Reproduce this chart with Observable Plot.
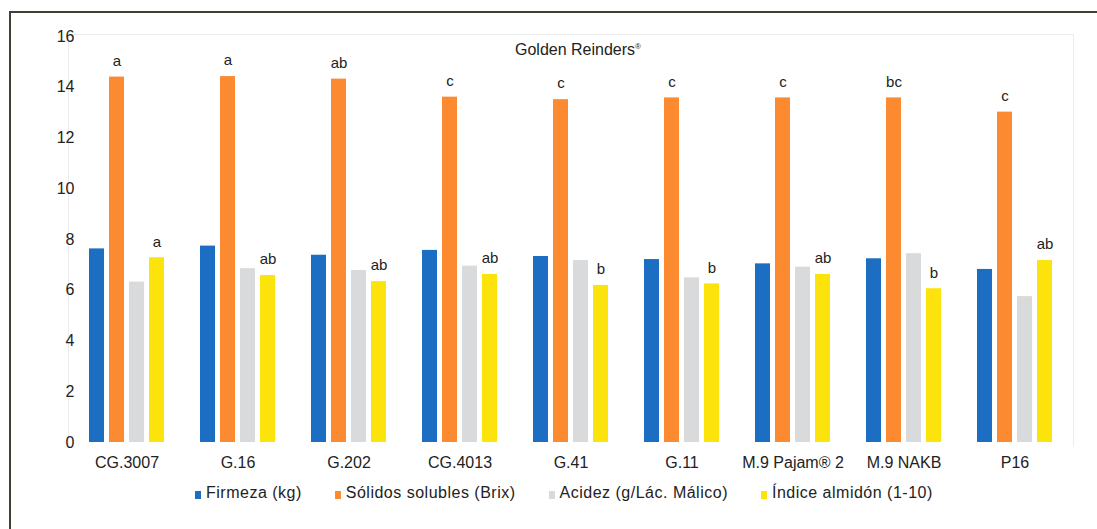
<!DOCTYPE html>
<html>
<head>
<meta charset="utf-8">
<script src="https://cdn.jsdelivr.net/npm/d3@7"></script>
<script src="https://cdn.jsdelivr.net/npm/@observablehq/plot@0.6"></script>
<style>
  html, body { margin: 0; padding: 0; background: #fff; }
  body { width: 1097px; height: 529px; position: relative; overflow: hidden; font-family: "Liberation Sans", Arial, sans-serif; }
  #frame { position: absolute; left: 9px; top: 11px; width: 1100px; height: 530px; border-left: 2px solid #3d4232; border-top: 2px solid #3d4232; }
  #plotarea { position: absolute; left: 68px; top: 34px; width: 1004px; height: 412px; border: 1px solid #ececec; border-bottom: none; }
  #chart { position: absolute; left: 0; top: 0; }
  #title { position: absolute; top: 41px; left: 578px; transform: translateX(-50%); font-size: 16px; color: #222; white-space: nowrap; }
  #title sup { font-size: 8px; }
  #legend { position: absolute; top: 484px; left: 195px; display: flex; gap: 33px; font-size: 16px; letter-spacing: 0.5px; color: #222; white-space: nowrap; }
  #legend span.item { display: inline-flex; align-items: center; }
  #legend i { display: inline-block; width: 6px; height: 8px; margin-right: 5px; margin-top: 3px; }
</style>
</head>
<body>
<div id="frame"></div>
<div id="plotarea"></div>
<div id="chart"></div>
<div id="title">Golden Reinders<sup>®</sup></div>
<div id="legend"></div>
<script>
const categories = ["CG.3007", "G.16", "G.202", "CG.4013", "G.41", "G.11", "M.9 Pajam® 2", "M.9 NAKB", "P16"];
const series = ["Firmeza (kg)", "Sólidos solubles (Brix)", "Acidez (g/Lác. Málico)", "Índice almidón (1-10)"];
const colors = ["#1b6ec2", "#fb8a30", "#d8dadb", "#fde30c"];
const firmeza = [7.63, 7.74, 7.38, 7.57, 7.33, 7.21, 7.04, 7.24, 6.82];
const solidos = [14.40, 14.42, 14.32, 13.61, 13.51, 13.58, 13.58, 13.58, 13.02];
const acidez = [6.32, 6.85, 6.78, 6.95, 7.17, 6.49, 6.91, 7.44, 5.75];
const almidon = [7.28, 6.58, 6.34, 6.62, 6.19, 6.25, 6.62, 6.06, 7.17];
const letrasSolidos = ["a", "a", "ab", "c", "c", "c", "c", "bc", "c"];
const letrasAlmidon = ["a", "ab", "ab", "ab", "b", "b", "ab", "b", "ab"];
const yTicks = [0, 2, 4, 6, 8, 10, 12, 14, 16];

const valueLists = [firmeza, solidos, acidez, almidon];
const data = [];
categories.forEach((c, i) => {
  series.forEach((s, j) => data.push({cat: c, serie: s, value: valueLists[j][i]}));
});
const labels = [];
categories.forEach((c, i) => {
  labels.push({cat: c, serie: series[1], value: solidos[i], text: letrasSolidos[i]});
  labels.push({cat: c, serie: series[3], value: almidon[i], text: letrasAlmidon[i]});
});

const chart = Plot.plot({
  width: 1097,
  height: 480,
  marginTop: 36,
  marginBottom: 38,
  marginLeft: 68,
  marginRight: 25,
  style: {fontFamily: "'Liberation Sans', Arial, sans-serif", fontSize: "16px", color: "#222", background: "transparent", overflow: "visible"},
  fx: {domain: categories, paddingInner: 0.328, paddingOuter: 0.164, label: null, tickSize: 0, tickPadding: 14, axis: "bottom"},
  x: {domain: series, paddingInner: 0.25, paddingOuter: 0, axis: null},
  y: {domain: [0, 16], ticks: yTicks, tickSize: 0, tickPadding: 15, label: null, tickFormat: d3.format("d")},
  color: {domain: series, range: colors},
  marks: [
    Plot.barY(data, {fx: "cat", x: "serie", y: "value", fill: "serie"}),
    Plot.text(labels, {fx: "cat", x: "serie", y: "value", text: "text", dy: -16, lineAnchor: "middle", fill: "#222", fontSize: 15})
  ]
});
document.getElementById("chart").appendChild(chart);

const legend = document.getElementById("legend");
series.forEach((s, j) => {
  const item = document.createElement("span");
  item.className = "item";
  const sw = document.createElement("i");
  sw.style.background = colors[j];
  item.appendChild(sw);
  item.appendChild(document.createTextNode(s));
  legend.appendChild(item);
});
</script>
</body>
</html>
